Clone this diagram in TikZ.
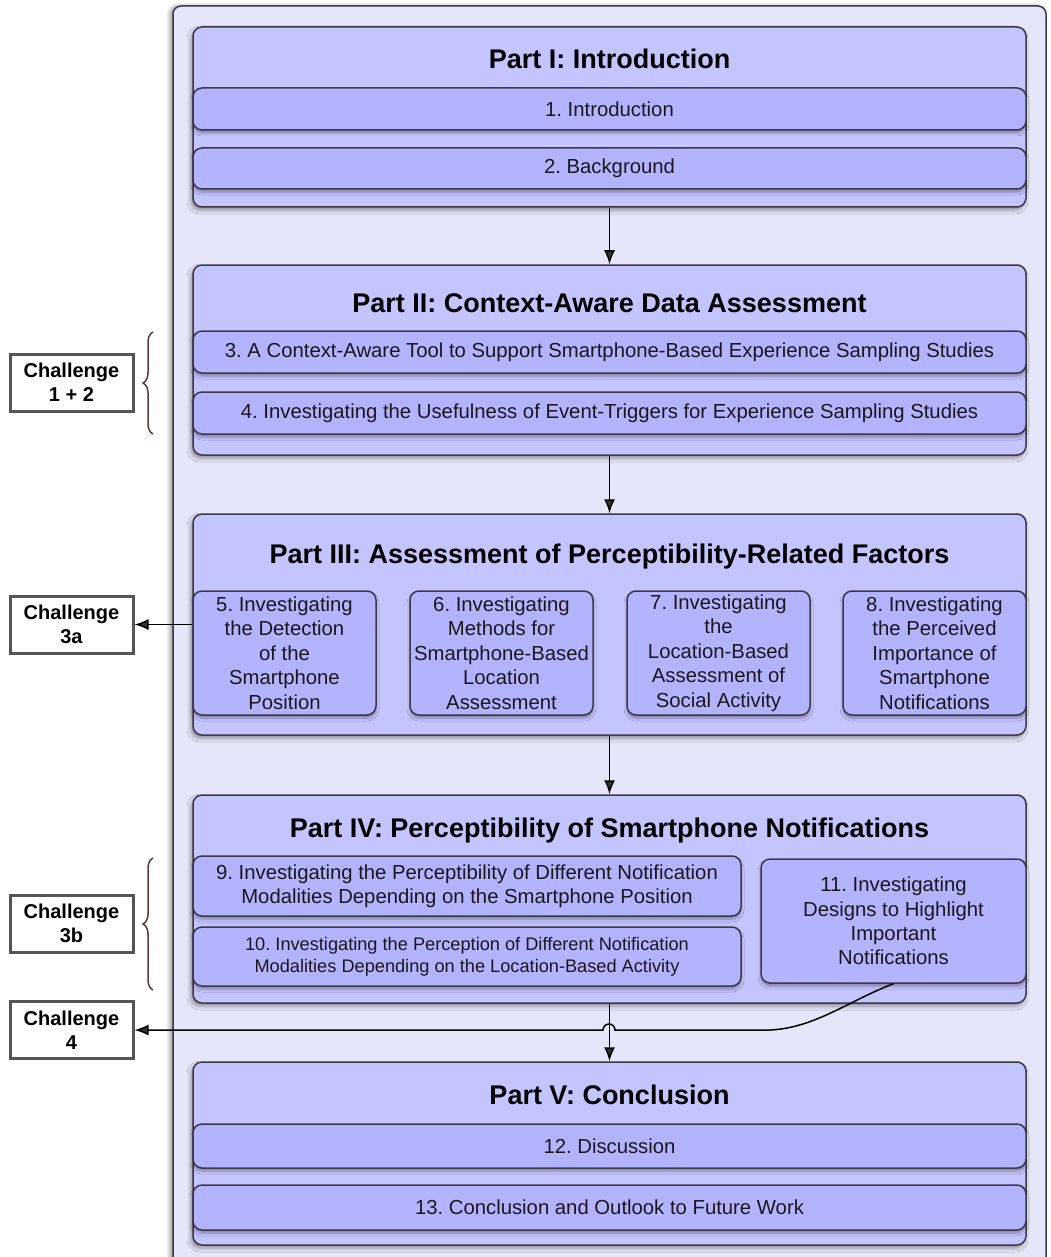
\documentclass[tikz,border=0pt]{standalone}
\usepackage{fontspec}
\setmainfont{Liberation Sans}
\usetikzlibrary{arrows.meta,shadows.blur,decorations.pathreplacing}
\definecolor{bgblue}{RGB}{230,230,250}
\definecolor{partblue}{RGB}{196,196,255}
\definecolor{chapblue}{RGB}{179,179,255}
\definecolor{edgegray}{RGB}{58,58,70}
\definecolor{challgray}{RGB}{85,85,85}
\definecolor{bracebrown}{RGB}{95,55,55}
\definecolor{txt}{RGB}{25,25,25}
\frenchspacing
\tikzset{
 partbox/.style={draw=edgegray,line width=1.5pt,fill=partblue,rounded corners=9pt,inner sep=0pt,
   blur shadow={shadow xshift=-2pt,shadow yshift=-3pt,shadow blur radius=4pt,shadow opacity=40}},
 chapbox/.style={draw=edgegray,line width=1.5pt,fill=chapblue,rounded corners=9pt,inner sep=0pt,
   align=center,text=txt,font=\fontsize{20.3}{24.4}\selectfont,
   blur shadow={shadow xshift=0pt,shadow yshift=-3pt,shadow blur radius=3pt,shadow opacity=35}},
 parttitle/.style={font=\fontsize{27}{31}\selectfont\bfseries},
 challbox/.style={draw=challgray,line width=3pt,fill=white,align=center,minimum width=123pt,
   minimum height=57pt,inner sep=0pt,font=\fontsize{20}{24}\selectfont\bfseries},
 flow/.style={-{Latex[length=14pt,width=11pt]},line width=1.5pt},
 chbrace/.style={decorate,decoration={brace,amplitude=10pt},draw=bracebrown,line width=1.5pt}
}
\begin{document}
\begin{tikzpicture}[x=1pt,y=-1pt]
\useasboundingbox (0,0) rectangle (1050,1257);
\draw[draw=edgegray,fill=bgblue,rounded corners=8pt,line width=1.5pt,
  blur shadow={shadow xshift=-3pt,shadow yshift=0pt,shadow blur radius=4pt,shadow opacity=40}] (173,6) rectangle (1046,1290);
% parts
\node[partbox,minimum width=833pt,minimum height=180pt] (p1) at (609.5,117) {};
\node[partbox,minimum width=833pt,minimum height=190pt] (p2) at (609.5,360) {};
\node[partbox,minimum width=833pt,minimum height=221pt] (p3) at (609.5,624.5) {};
\node[partbox,minimum width=833pt,minimum height=208pt] (p4) at (609.5,899) {};
\node[partbox,minimum width=833pt,minimum height=183pt] (p5) at (609.5,1153.5) {};
\node[parttitle] (t1) at (609.5,59) {Part I: Introduction};
\node[parttitle] (t2) at (609.5,303) {Part II: Context-Aware Data Assessment};
\node[parttitle] (t3) at (609.5,557) {Part III: Assessment of Perceptibility-Related Factors};
\node[parttitle] (t4) at (609.5,831) {Part IV: Perceptibility of Smartphone Notifications};
\node[parttitle] (t5) at (609.5,1095) {Part V: Conclusion};
% chapters
\node[chapbox,minimum width=833pt,minimum height=42pt] (c1) at (609.5,109) {1. Introduction};
\node[chapbox,minimum width=833pt,minimum height=41pt] (c2) at (609.5,168.5) {2. Background};
\node[chapbox,minimum width=833pt,minimum height=42pt] (c3) at (609.5,352) {3. A Context-Aware Tool to Support Smartphone-Based Experience Sampling Studies};
\node[chapbox,minimum width=833pt,minimum height=42pt] (c4) at (609.5,413) {4. Investigating the Usefulness of Event-Triggers for Experience Sampling Studies};
\node[chapbox,minimum width=183pt,minimum height=124pt] (c5) at (284.5,653) {5. Investigating\\the Detection\\of the\\Smartphone\\Position};
\node[chapbox,minimum width=183pt,minimum height=124pt] (c6) at (501.5,653) {6. Investigating\\Methods for\\Smartphone-Based\\Location\\Assessment};
\node[chapbox,minimum width=183pt,minimum height=124pt] (c7) at (718.5,653) {7. Investigating\\the\\Location-Based\\Assessment of\\Social Activity};
\node[chapbox,minimum width=183pt,minimum height=124pt] (c8) at (934.5,653) {8. Investigating\\the Perceived\\Importance of\\Smartphone\\Notifications};
\node[chapbox,minimum width=548pt,minimum height=60pt] (c9) at (467,886) {9. Investigating the Perceptibility of Different Notification\\Modalities Depending on the Smartphone Position};
\node[chapbox,minimum width=548pt,minimum height=59pt,font=\fontsize{18.2}{22}\selectfont] (c10) at (467,956.5) {10. Investigating the Perception of Different Notification\\Modalities Depending on the Location-Based Activity};
\node[chapbox,minimum width=265pt,minimum height=124pt] (c11) at (893.5,921) {11. Investigating\\Designs to Highlight\\Important\\Notifications};
\node[chapbox,minimum width=833pt,minimum height=44pt] (c12) at (609.5,1146) {12. Discussion};
\node[chapbox,minimum width=833pt,minimum height=45pt] (c13) at (609.5,1207.5) {13. Conclusion and Outlook to Future Work};
% challenges
\node[challbox] (ch12) at (71.5,382.5) {Challenge\\1 + 2};
\node[challbox] (ch3a) at (71.5,624.5) {Challenge\\3a};
\node[challbox] (ch3b) at (71.5,923.5) {Challenge\\3b};
\node[challbox] (ch4) at (71.5,1030) {Challenge\\4};
\draw[chbrace] (153,434) -- (153,332);
\draw[chbrace] (153,990) -- (153,858);
% arrows
\draw[flow] (p1.south) -- (p2.north);
\draw[flow] (p2.south) -- (p3.north);
\draw[flow] (p3.south) -- (p4.north);
\draw[flow] (p4.south) -- (p5.north);
\draw[flow] (c5.west |- ch3a) -- (ch3a.east);
\draw[flow] (c11.south) .. controls (850,1000) and (815,1028) .. (770,1030) -- (615,1030)
  arc[start angle=0,end angle=-180,radius=6] -- (ch4.east);
\end{tikzpicture}
\end{document}
